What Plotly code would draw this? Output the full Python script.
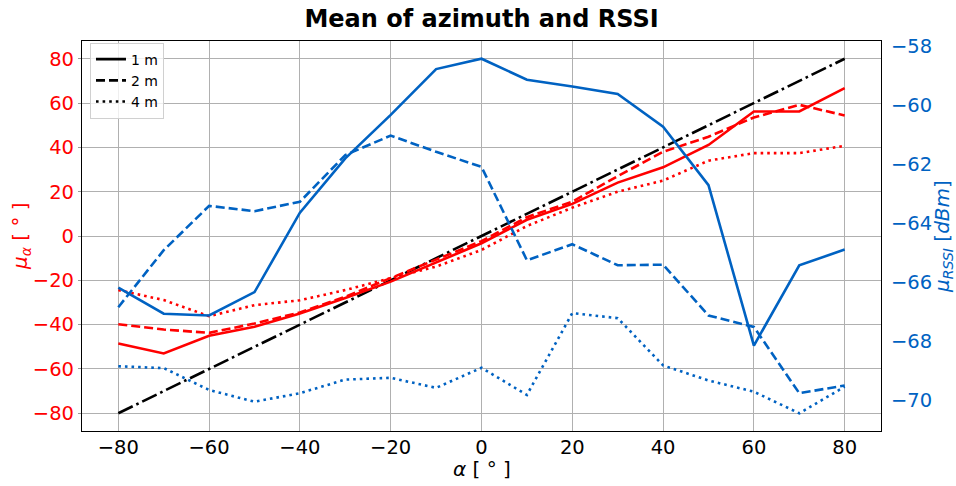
import plotly.graph_objects as go

angles = [-80, -70, -60, -50, -40, -30, -20, -10, 0, 10, 20, 30, 40, 50, 60, 70, 80]
ideal = [-80, -70, -60, -50, -40, -30, -20, -10, 0, 10, 20, 30, 40, 50, 60, 70, 80]

az_1m = [-48.5, -53, -45, -41, -35, -28, -20.6, -11.8, -3.3, 7.3, 14.5, 24.1, 31, 41.1, 56.2, 56.2, 66.7]
az_2m = [-39.8, -42.2, -43.7, -39.5, -34.5, -27.4, -19, -10.6, -2.3, 8.5, 15.5, 27, 38, 44.8, 53.5, 59.2, 54.4]
az_4m = [-24.4, -28.9, -36.2, -31.2, -29, -24.4, -19, -13.8, -6.3, 4.5, 12.8, 20, 25, 34, 37.4, 37.4, 40.7]

rssi_1m = [-66.19, -67.07, -67.13, -66.34, -63.65, -61.81, -60.34, -58.79, -58.44, -59.15,
           -59.38, -59.63, -60.74, -62.72, -68.15, -65.43, -64.9]
rssi_2m = [-66.85, -64.92, -63.42, -63.6, -63.28, -61.7, -61.04, -61.59, -62.1, -65.26,
           -64.72, -65.43, -65.41, -67.13, -67.52, -69.76, -69.5]
rssi_4m = [-68.85, -68.91, -69.65, -70.05, -69.76, -69.3, -69.24, -69.58, -68.9, -69.82,
           -67.05, -67.22, -68.82, -69.33, -69.71, -70.44, -69.54]

labels = ["1 m", "2 m", "4 m"]
x_ticks = [-80, -60, -40, -20, 0, 20, 40, 60, 80]
y1_ticks = [-80, -60, -40, -20, 0, 20, 40, 60, 80]
y2_ticks = [-70, -68, -66, -64, -62, -60, -58]

RED = "#ff0000"
BLUE = "#0062c2"
LW = 2.6
dashes = ["solid", "9px,4px", "2.6px,4px"]
DASHDOT = "16px,4px,2.6px,4px"
TICK = 19.5

fig = go.Figure()

# left axis: azimuth
fig.add_trace(go.Scatter(x=angles, y=ideal, mode="lines", showlegend=False,
                         line=dict(color="black", width=LW, dash=DASHDOT)))
for vals, d in zip([az_1m, az_2m, az_4m], dashes):
    fig.add_trace(go.Scatter(x=angles, y=vals, mode="lines", showlegend=False,
                             line=dict(color=RED, width=LW, dash=d)))

# right axis: RSSI
for vals, d in zip([rssi_1m, rssi_2m, rssi_4m], dashes):
    fig.add_trace(go.Scatter(x=angles, y=vals, mode="lines", showlegend=False, yaxis="y2",
                             line=dict(color=BLUE, width=LW, dash=d)))

# legend entries
for lab, d in zip(labels, dashes):
    fig.add_trace(go.Scatter(x=[None], y=[None], mode="lines", name=lab,
                             line=dict(color="black", width=LW, dash=d)))


def minus(vals):
    return [str(v).replace("-", "−") for v in vals]


PL, PR, PT, PB = 82, 881, 41, 431
PW, PH = PR - PL, PB - PT

fig.update_layout(
    width=956, height=486,
    margin=dict(l=PL, r=956 - PR, t=PT, b=486 - PB, autoexpand=False),
    paper_bgcolor="white", plot_bgcolor="white",
    font=dict(family="DejaVu Sans", size=18, color="black"),
    title=dict(text="<b>Mean of azimuth and RSSI</b>", x=0.5, xref="paper",
               y=1 - 19 / 486, yref="container", yanchor="middle",
               font=dict(size=24, family="DejaVu Sans", color="black")),
    showlegend=True,
    legend=dict(x=0.01, y=0.996, xanchor="left", yanchor="top",
                bgcolor="rgba(255,255,255,0.8)", bordercolor="#d0d0d0", borderwidth=1,
                font=dict(size=14, family="DejaVu Sans", color="black"),
                tracegroupgap=0, itemwidth=30),
    xaxis=dict(range=[-88, 88], tickvals=x_ticks, ticktext=minus(x_ticks), automargin=False,
               showgrid=True, gridcolor="#b0b0b0", gridwidth=1, zeroline=False,
               showline=True, linecolor="black", linewidth=1.2, mirror=True,
               ticks="", ticklabelstandoff=-2, tickfont=dict(size=TICK, color="black")),
    yaxis=dict(range=[-88, 88], tickvals=y1_ticks, ticktext=minus(y1_ticks), automargin=False,
               showgrid=True, gridcolor="#b0b0b0", gridwidth=1, zeroline=False,
               showline=True, linecolor="black", linewidth=1.2, mirror=True,
               ticks="outside", ticklen=3, tickcolor="#999999",
               tickfont=dict(size=TICK, color=RED)),
    yaxis2=dict(range=[-71.04, -57.84], tickvals=y2_ticks, ticktext=minus(y2_ticks), automargin=False,
                overlaying="y", side="right", showgrid=False, zeroline=False,
                showline=False, ticks="outside", ticklen=5, tickcolor="rgba(0,0,0,0)",
                tickfont=dict(size=TICK, color=BLUE),
                title=dict(text="<i>μ<sub>RSSI</sub></i> [<i>dBm</i>]", font=dict(size=20, color=BLUE), standoff=4)),
    annotations=[
        dict(text="<i>α</i> [ ° ]", xref="paper", yref="paper",
             x=(482 - PL) / PW, y=(PB - 469) / PH, xanchor="center", yanchor="middle",
             showarrow=False, font=dict(size=20, color="black")),
        dict(text="<i>μ<sub>α</sub></i> [ ° ]", xref="paper", yref="paper",
             x=(21 - PL) / PW, y=0.5, xanchor="center", yanchor="middle", textangle=-90,
             showarrow=False, font=dict(size=20, color=RED)),
    ],
)

fig.write_html("out.html")
